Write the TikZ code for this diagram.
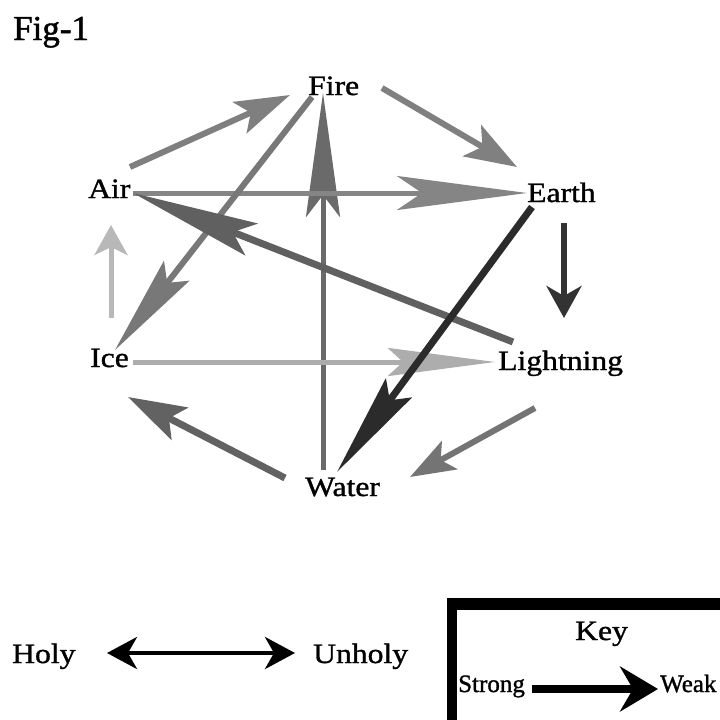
\documentclass[tikz,border=0pt]{standalone}
\usepackage{fontspec}
\setmainfont[FakeBold=1]{Liberation Serif}
\newfontfamily\widefont[FakeStretch=1.13,FakeBold=1.2]{Liberation Serif}
\newfontfamily\heavyfont[FakeBold=1.4]{Liberation Serif}
\newfontfamily\keyfont[FakeBold=1.2]{Liberation Serif}
\usetikzlibrary{arrows.meta}
\definecolor{gA}{HTML}{7F7F7F}
\definecolor{gB}{HTML}{808080}
\definecolor{gC}{HTML}{858585}
\definecolor{gD}{HTML}{6A6A6A}
\definecolor{gE}{HTML}{787878}
\definecolor{gF}{HTML}{606060}
\definecolor{gG}{HTML}{2B2B2B}
\definecolor{gH}{HTML}{333333}
\definecolor{gI}{HTML}{B8B8B8}
\definecolor{gJ}{HTML}{ADADAD}
\definecolor{gK}{HTML}{626262}
\definecolor{gL}{HTML}{747474}
\tikzset{
  lbl/.style={anchor=base west, inner sep=0pt, font=\widefont\fontsize{28}{30}\selectfont},
  smalllbl/.style={anchor=base west, inner sep=0pt, font=\keyfont\fontsize{25}{27}\selectfont},
  rel/.style={line cap=butt},
}
\begin{document}
\begin{tikzpicture}[x=1pt,y=-1pt]
\useasboundingbox (0,0) rectangle (720,720);
\fill[white] (0,0) rectangle (720,720);

% labels
\node[anchor=base west, inner sep=0pt, font=\heavyfont\fontsize{35}{38}\selectfont] (fig) at (13,40) {Fig-1};
\node[lbl] (fire) at (308,95) {Fire};
\node[lbl] (air) at (88,198) {Air};
\node[lbl] (earth) at (527,202) {Earth};
\node[lbl] (ice) at (90,367) {Ice};
\node[lbl] (light) at (498,370) {Lightning};
\node[lbl] (water) at (305,496) {Water};

% connector end points
\coordinate (wf1) at (323,470);   \coordinate (wf2) at (323,93);
\coordinate (ae1) at (133,193);   \coordinate (ae2) at (527,193);
\coordinate (fi1) at (312,97);    \coordinate (fi2) at (115,350);
\coordinate (la1) at (513,342);   \coordinate (la2) at (133,193);
\coordinate (il1) at (133,362);   \coordinate (il2) at (495,362);
\coordinate (af1) at (130,167);   \coordinate (af2) at (290,95);
\coordinate (fe1) at (382,88);    \coordinate (fe2) at (517,167);
\coordinate (el1) at (564,223);   \coordinate (el2) at (564,318);
\coordinate (ia1) at (111,318);   \coordinate (ia2) at (111,225);
\coordinate (wi1) at (285,478);   \coordinate (wi2) at (128,397);
\coordinate (lw1) at (535,408);   \coordinate (lw2) at (410,477);
\coordinate (ew1) at (532,207);   \coordinate (ew2) at (337,472);

% connectors
\draw[rel, gD, line width=5pt, -{Stealth[length=124pt, width=34pt, inset=22pt]}] (wf1) -- (wf2);
\draw[rel, gC, line width=5pt, -{Stealth[length=130pt, width=34pt, inset=25pt]}] (ae1) -- (ae2);
\draw[rel, gE, line width=6pt, -{Stealth[length=100pt, width=32pt, inset=15pt]}] (fi1) -- (fi2);
\draw[rel, gF, line width=7pt, -{Stealth[length=127pt, width=34pt, inset=20pt]}] (la1) -- (la2);
\draw[rel, gJ, line width=5pt, -{Stealth[length=107pt, width=28pt, inset=15pt]}] (il1) -- (il2);
\draw[rel, gA, line width=6pt, -{Stealth[length=55pt, width=34pt, inset=12pt]}] (af1) -- (af2);
\draw[rel, gB, line width=6pt, -{Stealth[length=52pt, width=36pt, inset=12pt]}] (fe1) -- (fe2);
\draw[rel, gH, line width=6pt, -{Stealth[length=32pt, width=35pt, inset=10pt]}] (el1) -- (el2);
\draw[rel, gI, line width=5pt, -{Stealth[length=30pt, width=33pt, inset=8pt]}] (ia1) -- (ia2);
\draw[rel, gK, line width=7pt, -{Stealth[length=58pt, width=36pt, inset=12pt]}] (wi1) -- (wi2);
\draw[rel, gL, line width=6pt, -{Stealth[length=45pt, width=32pt, inset=10pt]}] (lw1) -- (lw2);
\draw[rel, gG, line width=7pt, -{Stealth[length=104pt, width=32pt, inset=15pt]}] (ew1) -- (ew2);

% Holy / Unholy
\node[lbl] (holy) at (12,663) {Holy};
\node[lbl] (unholy) at (313,663) {Unholy};
\coordinate (hu1) at (107,653); \coordinate (hu2) at (295,653);
\draw[rel, black, line width=4.5pt, {Stealth[length=30pt, width=32pt, inset=9pt]}-{Stealth[length=30pt, width=32pt, inset=9pt]}] (hu1) -- (hu2);

% Key box
\fill[black] (447,598) rectangle (720,610);
\fill[black] (447,598) rectangle (457,720);
\node[lbl] (key) at (575,640) {Key};
\node[smalllbl] (strong) at (458,692) {Strong};
\node[smalllbl] (weak) at (660,692) {Weak};
\coordinate (k1) at (532,689); \coordinate (k2) at (658,689);
\draw[rel, black, line width=8pt, -{Stealth[length=38pt, width=45pt, inset=13pt]}] (k1) -- (k2);
\end{tikzpicture}
\end{document}
